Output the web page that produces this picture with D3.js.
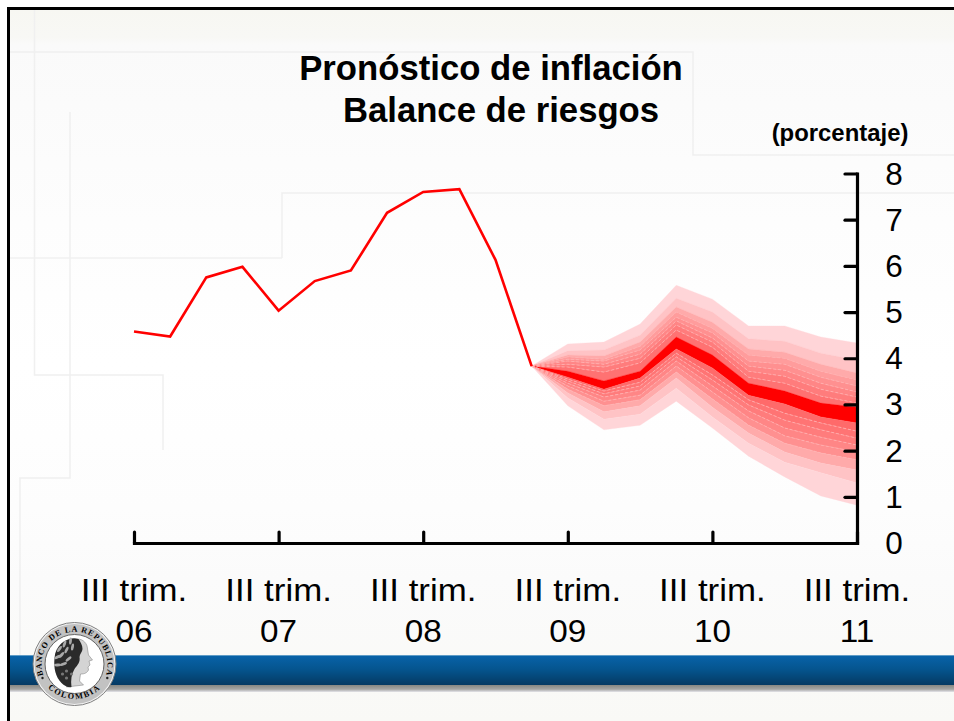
<!DOCTYPE html>
<html><head><meta charset="utf-8">
<script src="https://cdn.jsdelivr.net/npm/d3@7"></script>
<style>html,body{margin:0;padding:0;background:#fff;overflow:hidden}svg{display:block}text{font-family:"Liberation Sans",Arial,sans-serif;fill:#000}</style>
</head><body><svg id="c" width="954" height="721"></svg>
<script>
// ---- data (percent) ----
const titleLines = ["Pronóstico de inflación", "Balance de riesgos"];
const unitLabel = "(porcentaje)";
const yTicks = [0, 1, 2, 3, 4, 5, 6, 7, 8];
const xTickQuarters = [0, 4, 8, 12, 16, 20];
const xTickTop = ["III trim.", "III trim.", "III trim.", "III trim.", "III trim.", "III trim."];
const xTickBottom = ["06", "07", "08", "09", "10", "11"];
const history = [4.58, 4.47, 5.75, 5.98, 5.03, 5.67, 5.90, 7.15, 7.60, 7.66, 6.13, 3.83];
const fanQuarters = [11, 12, 13, 14, 15, 16, 17, 18, 19, 20];
const U1 = [3.83, 4.31, 4.35, 4.74, 5.58, 5.28, 4.70, 4.70, 4.46, 4.33];
const U2 = [3.83, 4.16, 4.18, 4.50, 5.30, 5.00, 4.42, 4.37, 4.11, 3.96];
const U3 = [3.83, 4.07, 4.05, 4.35, 5.11, 4.78, 4.20, 4.13, 3.87, 3.68];
const U4 = [3.83, 4.03, 3.98, 4.26, 5.00, 4.65, 4.07, 4.00, 3.72, 3.53];
const U5 = [3.83, 3.98, 3.94, 4.18, 4.89, 4.55, 3.94, 3.87, 3.59, 3.40];
const U6 = [3.83, 3.94, 3.87, 4.09, 4.81, 4.44, 3.83, 3.74, 3.46, 3.27];
const U7 = [3.83, 3.87, 3.81, 4.00, 4.72, 4.35, 3.72, 3.61, 3.33, 3.16];
const U8 = [3.83, 3.81, 3.70, 3.90, 4.61, 4.24, 3.59, 3.46, 3.18, 3.03];
const CT = [3.83, 3.72, 3.51, 3.72, 4.46, 4.07, 3.46, 3.29, 3.03, 2.94];
const CB = [3.83, 3.59, 3.33, 3.57, 4.20, 3.79, 3.20, 3.01, 2.73, 2.60];
const L1 = [3.83, 3.55, 3.29, 3.48, 4.11, 3.64, 3.10, 2.81, 2.60, 2.42];
const L2 = [3.83, 3.51, 3.23, 3.40, 4.03, 3.53, 2.99, 2.66, 2.45, 2.27];
const L3 = [3.83, 3.46, 3.16, 3.31, 3.94, 3.40, 2.86, 2.49, 2.29, 2.12];
const L4 = [3.83, 3.40, 3.07, 3.20, 3.83, 3.27, 2.71, 2.32, 2.12, 1.97];
const L5 = [3.83, 3.33, 2.97, 3.10, 3.70, 3.12, 2.55, 2.16, 1.95, 1.80];
const L6 = [3.83, 3.25, 2.84, 2.97, 3.57, 2.94, 2.38, 1.97, 1.73, 1.58];
const L7 = [3.83, 3.14, 2.68, 2.79, 3.35, 2.73, 2.16, 1.75, 1.52, 1.30];
const L8 = [3.83, 2.97, 2.45, 2.55, 3.07, 2.49, 1.88, 1.43, 1.02, 0.82];
const fanLevels = [U1, U2, U3, U4, U5, U6, U7, U8, CT, CB, L1, L2, L3, L4, L5, L6, L7, L8];
const fanColors = ["#ffd5d8", "#ffc3c5", "#ffaaaa", "#ff9c9c", "#ff9090", "#ff8686", "#ff7c7c", "#ff7272", "#ff0000",
                   "#ff6a6a", "#ff7474", "#ff7c7c", "#ff8686", "#ff9090", "#ffaaaa", "#ffc3c5", "#ffd5d8"];

// ---- scales ----
const svg = d3.select("#c");
const x = d3.scaleLinear().domain([0, 20]).range([134, 857]);
const y = d3.scaleLinear().domain([0, 8]).range([543, 173.5]);

// ---- page background ----
const defs = svg.append("defs");
const bg = defs.append("linearGradient").attr("id", "bg").attr("x2", 0).attr("y2", 1);
[[0, "#f7f7f2"], [0.04, "#f8f8f5"], [0.05, "#fafafa"], [0.3, "#fdfdfd"], [0.5, "#ffffff"], [0.7, "#fdfdfd"], [0.8, "#fbfbfb"], [1, "#f9f9f6"]]
  .forEach(s => bg.append("stop").attr("offset", s[0]).attr("stop-color", s[1]));
const bar = defs.append("linearGradient").attr("id", "bar").attr("x2", 0).attr("y2", 1);
[[0, "#0862a8"], [0.45, "#05558f"], [1, "#053a63"]].forEach(s => bar.append("stop").attr("offset", s[0]).attr("stop-color", s[1]));
const sh = defs.append("linearGradient").attr("id", "sh").attr("x2", 0).attr("y2", 1);
[[0, "#878782"], [0.6, "#a5a5a3"], [1, "#e4e4ea"]].forEach(s => sh.append("stop").attr("offset", s[0]).attr("stop-color", s[1]));
const blur = defs.append("filter").attr("id", "soft");
blur.append("feGaussianBlur").attr("stdDeviation", 0.45);

svg.append("rect").attr("x", 9).attr("y", 9).attr("width", 945).attr("height", 712).attr("fill", "url(#bg)");
const deco = ["M10 52H693V155H954", "M282 258V193H954", "M10 258H282", "M34.5 10V375H163V450", "M70 112V478H20V656"];
svg.append("g").selectAll("path").data(deco).join("path").attr("d", d => d)
  .attr("fill", "none").attr("stroke", "#f0f0f0").attr("stroke-width", 1.5);

// frame
svg.append("path").attr("d", "M8.5 721V8.5H954").attr("fill", "none").attr("stroke", "#000").attr("stroke-width", 3);

// ---- fan ----
const fanRows = fanQuarters.map((q, i) => ({ q, i }));
const band = g => d3.area().x(d => x(d.q)).y0(d => y(g[1][d.i])).y1(d => y(g[0][d.i]));
const fan = svg.append("g");
fanColors.forEach((c, k) => {
  fan.append("path").datum(fanRows).attr("fill", c).attr("stroke", c).attr("stroke-width", 0.3)
    .attr("d", band([fanLevels[k], fanLevels[k + 1]]));
});
const sepLine = lvl => d3.line().x(d => x(d.q)).y(d => y(lvl[d.i]));
[U4, U5, U6, U7, U8, L1, L2, L3, L4, L5].forEach(l => {
  fan.append("path").datum(fanRows).attr("fill", "none").attr("stroke", "#ffb4b4").attr("stroke-width", 0.8)
    .attr("stroke-dasharray", "3 2").attr("d", sepLine(l));
});

// ---- history line ----
svg.append("path").datum(history).attr("fill", "none").attr("stroke", "#ff0000").attr("stroke-width", 2.6)
  .attr("stroke-linejoin", "miter")
  .attr("d", d3.line().x((d, i) => x(i)).y(d => y(d)));

// ---- axes ----
function styleAxis(g) {
  g.selectAll("path,line").attr("stroke", "#000").attr("stroke-width", 3.2).attr("stroke-linecap", "round");
  g.select(".domain").attr("stroke-linecap", "square");
  g.selectAll("text").remove();
}
svg.append("g").attr("transform", `translate(0,${y(0)})`)
  .call(d3.axisTop(x).tickValues(xTickQuarters).tickSize(11).tickSizeOuter(0).tickFormat(""))
  .call(styleAxis);
svg.append("g").attr("transform", `translate(${x(20)},0)`)
  .call(d3.axisLeft(y).tickValues(yTicks).tickSize(12).tickSizeOuter(0).tickFormat(""))
  .call(styleAxis);

// ---- text ----
function label(txt, cx, base, size, sx, bold) {
  svg.append("text").attr("transform", `translate(${cx},${base}) scale(${sx},1)`)
    .attr("text-anchor", "middle").attr("font-size", size)
    .attr("font-weight", bold ? 700 : 400).text(txt);
}
yTicks.forEach(t => label(String(t), 894, y(t) + 11, 31.5, 1.0, false));
xTickQuarters.forEach((q, i) => {
  label(xTickTop[i], x(q), 601, 32, 1.09, false);
  label(xTickBottom[i], x(q), 641.5, 32, 1.04, false);
});
label(titleLines[0], 491, 80, 34.7, 1.0, true);
label(titleLines[1], 501, 122, 34.7, 1.0, true);
label(unitLabel, 840, 141, 23.9, 1.0, true);

// ---- footer bar ----
svg.append("rect").attr("x", 10).attr("y", 656).attr("width", 944).attr("height", 29).attr("fill", "url(#bar)");
svg.append("rect").attr("x", 10).attr("y", 655).attr("width", 944).attr("height", 1).attr("fill", "#5f9cc6");
svg.append("rect").attr("x", 10).attr("y", 685).attr("width", 944).attr("height", 7).attr("fill", "url(#sh)");

// ---- seal ----
const seal = svg.append("g").attr("transform", "translate(74.5,664)");
seal.append("circle").attr("r", 41.5).attr("fill", "#f2f2f2").attr("stroke", "#808080").attr("stroke-width", 1);
seal.append("circle").attr("r", 40).attr("fill", "#c2c2c2");
seal.append("circle").attr("r", 29.5).attr("fill", "#fff").attr("stroke", "#666").attr("stroke-width", 1);
seal.append("path").attr("id", "arcTop").attr("fill", "none").attr("d", "M-31 12A33 33 0 1 1 31 12");
seal.append("path").attr("id", "arcBot").attr("fill", "none").attr("d", "M-30 20A37.5 37.5 0 0 0 30 20");
const sealText = (id, t, sp) => seal.append("text").attr("font-size", 8.2).attr("font-weight", 700)
  .style("font-family", "'Liberation Serif',serif").attr("letter-spacing", sp).attr("fill", "#1a1a1a")
  .append("textPath").attr("href", "#" + id).attr("startOffset", "50%").attr("text-anchor", "middle").text(t);
sealText("arcTop", "BANCO DE LA REPUBLICA", 0.9);
sealText("arcBot", "COLOMBIA", 1.6);
seal.append("circle").attr("cx", -32).attr("cy", 14).attr("r", 1.2).attr("fill", "#222");
seal.append("circle").attr("cx", 32.8).attr("cy", 14).attr("r", 1.2).attr("fill", "#222");
const head = seal.append("g").attr("filter", "url(#soft)");
head.append("path").attr("fill", "#d4d4d4").attr("stroke", "#777").attr("stroke-width", 0.5)
  .attr("d", "M3 -25C9 -25 13 -20 13 -15L14 -9L18 -4L14.5 -3L15.5 1L13.5 3L14 6C12 10 8 10 6 10L5 17L9 21L-8 23L-4 8L-8 -10Z");
head.append("path").attr("fill", "#2b2b2b")
  .attr("d", "M4 -25C-6 -28 -19 -20 -20 -6C-21 4 -19 13 -13 19C-10 22 -6 24 -3 23C-4 16 -3 10 0 5C3 1 6 -2 5 -7C5 -10 8 -12 8 -15C8 -19 6 -22 4 -25Z");
[[-15, -15, 35], [-10, -20, 20], [-4, -23, 5], [-17, -7, 60], [-17, 1, 85], [-13, -9, 40], [-8, -14, 25], [-2, -17, 10], [-11, 0, 70], [-6, -5, 50]]
  .forEach(l => head.append("ellipse").attr("rx", 1.4).attr("ry", 3.6)
    .attr("transform", `translate(${l[0]},${l[1]}) rotate(${l[2]})`).attr("fill", "#a9a9a9"));
[[-12, 10], [-8, 14], [-8, 7], [-3, 10]].forEach(l => head.append("circle").attr("cx", l[0]).attr("cy", l[1]).attr("r", 1.6).attr("fill", "#777"));
</script></body></html>
